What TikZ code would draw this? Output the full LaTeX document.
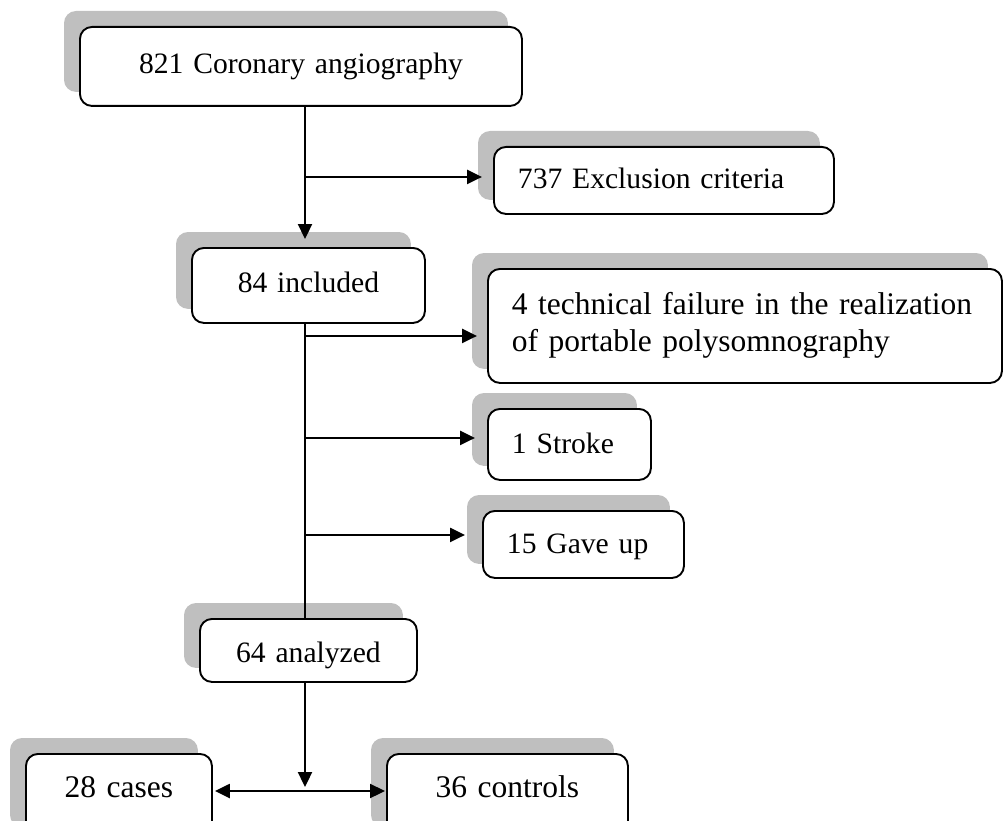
\documentclass[tikz,border=0pt]{standalone}
\usepackage{fontspec}
\setmainfont{Liberation Serif}
\usetikzlibrary{arrows.meta,backgrounds}
\definecolor{shadowgray}{RGB}{191,191,191}
\tikzset{
  fontA/.style={font=\fontsize{29.6pt}{34pt}\selectfont},
  fontB/.style={font=\fontsize{31.5pt}{37pt}\selectfont},
  box/.style={draw=black, line width=1.9pt, rounded corners=12pt, fill=white,
    inner ysep=0pt, anchor=north west},
  boxc/.style={box, inner xsep=0pt, text width=#1, align=center},
  boxl/.style={box, inner xsep=24pt, text width=#1, align=left},
  link/.style={line width=2.3pt},
  tip/.style={Triangle[length=15pt,width=14pt]},
  conn/.style={link, -{Triangle[length=15pt,width=14pt]}},
  conn2/.style={link, {Triangle[length=15pt,width=14pt]}-{Triangle[length=15pt,width=14pt]}},
}
\begin{document}
\begin{tikzpicture}[x=1pt, y=-1pt]
\useasboundingbox (0,0) rectangle (1003,821);

% boxes
\node[boxc=442pt, fontA, text height=47pt, text depth=32pt] (angio) at (79,26) {821 Coronary angiography};
\node[boxl=292pt, fontA, text height=42pt, text depth=25pt] (excl) at (493,146) {737 Exclusion criteria};
\node[boxc=233pt, fontA, text height=45pt, text depth=30pt] (incl) at (191,247) {84 included};
\node[boxl=466pt, fontB, text height=46pt, text depth=68pt] (tech) at (487,268) {4 technical failure in the realization\\of portable polysomnography};
\node[boxl=115pt, fontA, text height=45pt, text depth=26pt] (stroke) at (487,408) {1 Stroke};
\node[boxl=153pt, fontA, text height=43pt, text depth=24pt] (gaveup) at (482,510) {15 Gave up};
\node[boxc=217pt, fontA, text height=44pt, text depth=19pt] (analyzed) at (199,618) {64 analyzed};
\node[boxc=186pt, fontB, text height=44pt, text depth=43pt] (cases) at (25,753) {28 cases};
\node[boxc=241pt, fontB, text height=44pt, text depth=43pt] (controls) at (386,753) {36 controls};

% drop shadows behind every box
\begin{scope}[on background layer]
  \foreach \n in {angio,excl,incl,tech,stroke,gaveup,analyzed,cases,controls}
    \fill[shadowgray, rounded corners=12pt]
      ([shift={(-15,-15)}]\n.north west) rectangle ([shift={(-15,-15)}]\n.south east);
\end{scope}

% spine and branch points
\coordinate (spine) at (305,0);
\coordinate (split) at (305,791);
\coordinate (eB) at ([yshift=3.5pt]excl.west);
\coordinate (tB) at ([yshift=-10pt]tech.west);
\coordinate (sB) at ([yshift=6.5pt]stroke.west);
\coordinate (gB) at ([yshift=9.5pt]gaveup.west);

% connectors
\draw[conn, shorten >=8pt] (angio.south -| spine) -- (incl.north -| spine);
\draw[conn, shorten >=11pt] (eB -| spine) -- (eB);
\draw[link] (incl.south -| spine) -- (analyzed.north -| spine);
\draw[conn, shorten >=10pt] (tB -| spine) -- (tB);
\draw[conn, shorten >=12pt] (sB -| spine) -- (sB);
\draw[conn, shorten >=17pt] (gB -| spine) -- (gB);
\draw[conn, shorten >=4pt] (analyzed.south -| spine) -- (split);
\draw[conn2, shorten <=2pt, shorten >=1pt] (cases.east |- split) -- (controls.west |- split);
\end{tikzpicture}
\end{document}
